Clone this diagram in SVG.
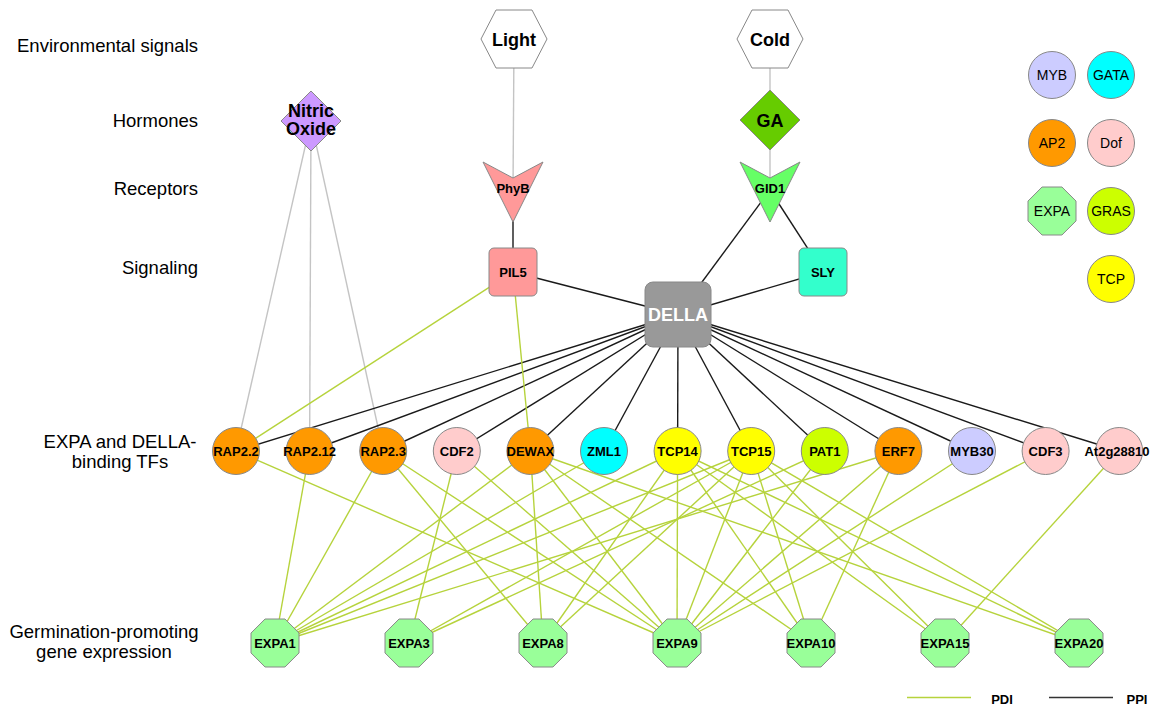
<svg xmlns="http://www.w3.org/2000/svg" width="1156" height="707" viewBox="0 0 1156 707">
<style>
text{font-family:"Liberation Sans",Arial,sans-serif;fill:#000}
.lab{font-size:18.5px}
.b13{font-size:13px;font-weight:bold;text-anchor:middle}
.b18{font-size:18px;font-weight:bold;text-anchor:middle}
.leg{font-size:14px;text-anchor:middle}
.nd{stroke:#888;stroke-width:1}
.pdi line{stroke:#B6D33C;stroke-width:1.4}
.ppi line{stroke:#1a1a1a;stroke-width:1.4}
.gry line{stroke:#C4C4C4;stroke-width:1.4}
.ap2{fill:#FF9900}.dof{fill:#FFCCCC}.gata{fill:#00FFFF}.tcp{fill:#FFFF00}.gras{fill:#CCFF00}.myb{fill:#CCCCFF}.expa{fill:#99FF99}
</style>
<defs>
<polygon id="oct" points="-9.94,-24 9.94,-24 24,-9.94 24,9.94 9.94,24 -9.94,24 -24,9.94 -24,-9.94" stroke="#888" stroke-width="1" fill="#99FF99"/>
</defs>

<g id="layer-labels">
<text class="lab" x="198" y="51.5" text-anchor="end">Environmental signals</text>
<text class="lab" x="198" y="127" text-anchor="end">Hormones</text>
<text class="lab" x="198" y="195" text-anchor="end">Receptors</text>
<text class="lab" x="198" y="274" text-anchor="end">Signaling</text>
<text class="lab" x="120" y="448" text-anchor="middle">EXPA and DELLA-</text>
<text class="lab" x="120" y="468" text-anchor="middle">binding TFs</text>
<text class="lab" x="104" y="638" text-anchor="middle">Germination-promoting</text>
<text class="lab" x="104" y="658" text-anchor="middle">gene expression</text>
</g>

<g id="connectors">
<g class="gry">
<line x1="514" y1="39" x2="513" y2="190"/>
<line x1="770" y1="39" x2="770" y2="120"/>
<line x1="770" y1="120" x2="770" y2="190"/>
<line x1="311" y1="121" x2="236" y2="451"/>
<line x1="311" y1="121" x2="309.6" y2="451"/>
<line x1="311" y1="121" x2="383.2" y2="451"/>
</g>
<g class="ppi">
<line x1="513" y1="200" x2="513" y2="272"/>
<line x1="770" y1="190" x2="678" y2="314.5"/>
<line x1="770" y1="190" x2="823" y2="272"/>
<line x1="513" y1="272" x2="678" y2="314.5"/>
<line x1="823" y1="272" x2="678" y2="314.5"/>
<line x1="678" y1="314.5" x2="236" y2="451"/>
<line x1="678" y1="314.5" x2="309.6" y2="451"/>
<line x1="678" y1="314.5" x2="383.2" y2="451"/>
<line x1="678" y1="314.5" x2="456.8" y2="451"/>
<line x1="678" y1="314.5" x2="530.4" y2="451"/>
<line x1="678" y1="314.5" x2="604" y2="451"/>
<line x1="678" y1="314.5" x2="677.6" y2="451"/>
<line x1="678" y1="314.5" x2="751.2" y2="451"/>
<line x1="678" y1="314.5" x2="824.8" y2="451"/>
<line x1="678" y1="314.5" x2="898.4" y2="451"/>
<line x1="678" y1="314.5" x2="972" y2="451"/>
<line x1="678" y1="314.5" x2="1045.6" y2="451"/>
<line x1="678" y1="314.5" x2="1119.2" y2="451"/>
</g>
<g class="pdi">
<line x1="513" y1="272" x2="236" y2="451"/>
<line x1="513" y1="272" x2="530.4" y2="451"/>
<line x1="236" y1="451" x2="677" y2="643"/>
<line x1="309.6" y1="451" x2="275" y2="643"/>
<line x1="383.2" y1="451" x2="275" y2="643"/>
<line x1="383.2" y1="451" x2="543" y2="643"/>
<line x1="383.2" y1="451" x2="677" y2="643"/>
<line x1="456.8" y1="451" x2="409" y2="643"/>
<line x1="456.8" y1="451" x2="677" y2="643"/>
<line x1="530.4" y1="451" x2="275" y2="643"/>
<line x1="530.4" y1="451" x2="543" y2="643"/>
<line x1="530.4" y1="451" x2="677" y2="643"/>
<line x1="530.4" y1="451" x2="811" y2="643"/>
<line x1="530.4" y1="451" x2="1079" y2="643"/>
<line x1="604" y1="451" x2="275" y2="643"/>
<line x1="677.6" y1="451" x2="275" y2="643"/>
<line x1="677.6" y1="451" x2="543" y2="643"/>
<line x1="677.6" y1="451" x2="677" y2="643"/>
<line x1="677.6" y1="451" x2="811" y2="643"/>
<line x1="677.6" y1="451" x2="945" y2="643"/>
<line x1="677.6" y1="451" x2="1079" y2="643"/>
<line x1="751.2" y1="451" x2="275" y2="643"/>
<line x1="751.2" y1="451" x2="409" y2="643"/>
<line x1="751.2" y1="451" x2="543" y2="643"/>
<line x1="751.2" y1="451" x2="677" y2="643"/>
<line x1="751.2" y1="451" x2="811" y2="643"/>
<line x1="751.2" y1="451" x2="945" y2="643"/>
<line x1="751.2" y1="451" x2="1079" y2="643"/>
<line x1="824.8" y1="451" x2="409" y2="643"/>
<line x1="824.8" y1="451" x2="677" y2="643"/>
<line x1="898.4" y1="451" x2="275" y2="643"/>
<line x1="898.4" y1="451" x2="677" y2="643"/>
<line x1="898.4" y1="451" x2="811" y2="643"/>
<line x1="972" y1="451" x2="677" y2="643"/>
<line x1="1045.6" y1="451" x2="677" y2="643"/>
<line x1="1119.2" y1="451" x2="945" y2="643"/>
</g>
</g>

<g id="Light"><polygon class="nd" fill="#fff" stroke="#aaa" points="481,39 496,10 532,10 547,39 532,68 496,68"/><text class="b18" x="514" y="45.5">Light</text></g>
<g id="Cold"><polygon class="nd" fill="#fff" stroke="#aaa" points="737,39 752,10 788,10 803,39 788,68 752,68"/><text class="b18" x="770" y="45.5">Cold</text></g>
<g id="NitricOxide"><polygon class="nd" fill="#CC99FF" points="311,91 341,121 311,151 281,121"/><text class="b18" x="311" y="117">Nitric</text><text class="b18" x="311" y="135">Oxide</text></g>
<g id="GA"><polygon class="nd" fill="#66CC00" points="770,90 800,120 770,150 740,120"/><text class="b18" x="770" y="126.5">GA</text></g>
<g id="PhyB"><polygon class="nd" fill="#FF9999" points="483,162 513,178 543,162 513,222"/><text class="b13" x="513" y="193">PhyB</text></g>
<g id="GID1"><polygon class="nd" fill="#66FF66" points="740,162 770,178 800,162 770,222"/><text class="b13" x="770" y="193">GID1</text></g>
<g id="PIL5"><rect class="nd" fill="#FF9999" x="489" y="248" width="48" height="48" rx="5"/><text class="b13" x="513" y="276.5">PIL5</text></g>
<g id="SLY"><rect class="nd" fill="#33FFCC" x="799" y="248" width="48" height="48" rx="5"/><text class="b13" x="823" y="276.5">SLY</text></g>
<g id="DELLA"><rect class="nd" fill="#999999" x="645" y="282" width="66" height="65" rx="8"/><text class="b18" x="678" y="321" style="fill:#fff">DELLA</text></g>

<g id="RAP2.2"><circle class="nd ap2" cx="236" cy="451" r="23.5"/><text class="b13" x="236" y="455.5">RAP2.2</text></g>
<g id="RAP2.12"><circle class="nd ap2" cx="309.6" cy="451" r="23.5"/><text class="b13" x="309.6" y="455.5">RAP2.12</text></g>
<g id="RAP2.3"><circle class="nd ap2" cx="383.2" cy="451" r="23.5"/><text class="b13" x="383.2" y="455.5">RAP2.3</text></g>
<g id="CDF2"><circle class="nd dof" cx="456.8" cy="451" r="23.5"/><text class="b13" x="456.8" y="455.5">CDF2</text></g>
<g id="DEWAX"><circle class="nd ap2" cx="530.4" cy="451" r="23.5"/><text class="b13" x="530.4" y="455.5">DEWAX</text></g>
<g id="ZML1"><circle class="nd gata" cx="604" cy="451" r="23.5"/><text class="b13" x="604" y="455.5">ZML1</text></g>
<g id="TCP14"><circle class="nd tcp" cx="677.6" cy="451" r="23.5"/><text class="b13" x="677.6" y="455.5">TCP14</text></g>
<g id="TCP15"><circle class="nd tcp" cx="751.2" cy="451" r="23.5"/><text class="b13" x="751.2" y="455.5">TCP15</text></g>
<g id="PAT1"><circle class="nd gras" cx="824.8" cy="451" r="23.5"/><text class="b13" x="824.8" y="455.5">PAT1</text></g>
<g id="ERF7"><circle class="nd ap2" cx="898.4" cy="451" r="23.5"/><text class="b13" x="898.4" y="455.5">ERF7</text></g>
<g id="MYB30"><circle class="nd myb" cx="972" cy="451" r="23.5"/><text class="b13" x="972" y="455.5">MYB30</text></g>
<g id="CDF3"><circle class="nd dof" cx="1045.6" cy="451" r="23.5"/><text class="b13" x="1045.6" y="455.5">CDF3</text></g>
<g id="At2g28810"><circle class="nd dof" cx="1119.2" cy="451" r="23.5"/><text class="b13" x="1117" y="455.5">At2g28810</text></g>

<g id="EXPA1"><use href="#oct" x="275" y="643"/><text class="b13" x="275" y="647.5">EXPA1</text></g>
<g id="EXPA3"><use href="#oct" x="409" y="643"/><text class="b13" x="409" y="647.5">EXPA3</text></g>
<g id="EXPA8"><use href="#oct" x="543" y="643"/><text class="b13" x="543" y="647.5">EXPA8</text></g>
<g id="EXPA9"><use href="#oct" x="677" y="643"/><text class="b13" x="677" y="647.5">EXPA9</text></g>
<g id="EXPA10"><use href="#oct" x="811" y="643"/><text class="b13" x="811" y="647.5">EXPA10</text></g>
<g id="EXPA15"><use href="#oct" x="945" y="643"/><text class="b13" x="945" y="647.5">EXPA15</text></g>
<g id="EXPA20"><use href="#oct" x="1079" y="643"/><text class="b13" x="1079" y="647.5">EXPA20</text></g>

<g id="legend-families">
<circle class="nd myb" cx="1052" cy="75" r="23.5"/><text class="leg" x="1052" y="80">MYB</text>
<circle class="nd gata" cx="1111" cy="75" r="23.5"/><text class="leg" x="1111" y="80">GATA</text>
<circle class="nd ap2" cx="1052" cy="143" r="23.5"/><text class="leg" x="1052" y="148">AP2</text>
<circle class="nd dof" cx="1111" cy="143" r="23.5"/><text class="leg" x="1111" y="148">Dof</text>
<use href="#oct" x="1052" y="211"/><text class="leg" x="1052" y="216">EXPA</text>
<circle class="nd gras" cx="1111" cy="211" r="23.5"/><text class="leg" x="1111" y="216">GRAS</text>
<circle class="nd tcp" cx="1111" cy="279" r="23.5"/><text class="leg" x="1111" y="284">TCP</text>
</g>

<g id="legend-edges">
<line x1="907" y1="697.5" x2="971" y2="697.5" stroke="#B6D33C" stroke-width="1.4"/>
<text x="1002" y="704" style="font-size:13px;font-weight:bold;text-anchor:middle">PDI</text>
<line x1="1049" y1="697.5" x2="1113" y2="697.5" stroke="#333" stroke-width="1.4"/>
<text x="1137" y="704" style="font-size:13px;font-weight:bold;text-anchor:middle">PPI</text>
</g>
</svg>
